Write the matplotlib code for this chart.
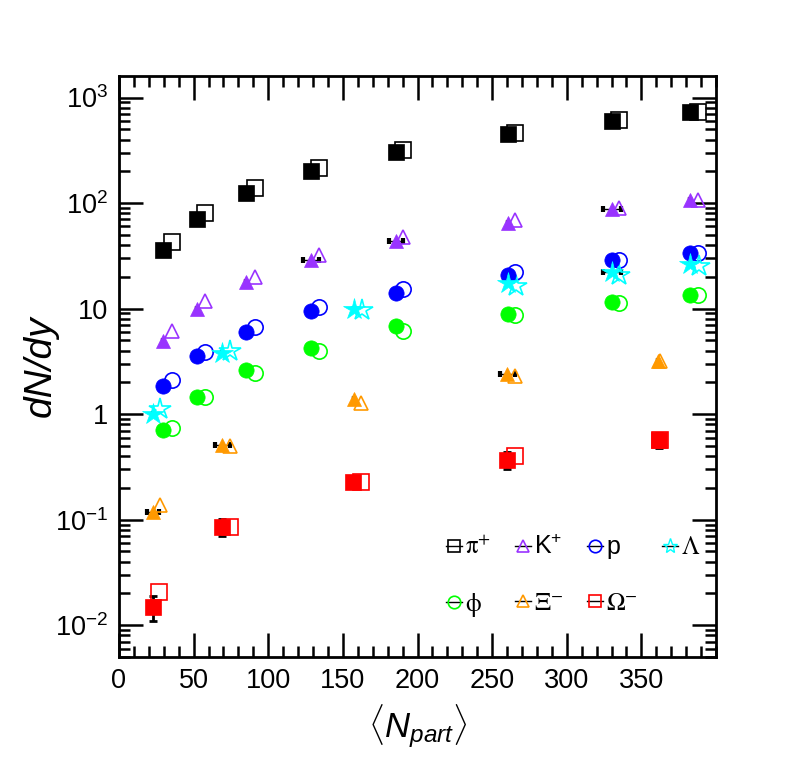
import matplotlib
matplotlib.use("Agg")
import matplotlib.pyplot as plt
from matplotlib.lines import Line2D
from matplotlib.ticker import FixedLocator, FixedFormatter, LogLocator, MultipleLocator, NullFormatter

plt.rcParams['font.family'] = ['Liberation Sans', 'DejaVu Sans']
plt.rcParams['mathtext.fontset'] = 'custom'
plt.rcParams['mathtext.rm'] = 'Liberation Sans'
plt.rcParams['mathtext.it'] = 'Liberation Sans:italic'
plt.rcParams['mathtext.bf'] = 'Liberation Sans:bold'

# ---------------- data ----------------
npart8_filled = [29.7, 52.4, 85.0, 128.7, 185.6, 260.5, 330.1, 382.8]
npart8_open = [35.3, 57.4, 90.8, 133.8, 190.6, 265.6, 335.2, 388.2]

pi_filled = [36.3, 70, 124, 201, 303, 452, 601, 727]
pi_open = [43, 81, 140, 217, 321, 466, 606, 722]
k_filled = [4.97, 9.9, 17.8, 29.2, 44.2, 65.2, 87.1, 106]
k_open = [6.09, 11.7, 19.8, 31.9, 47.6, 69.6, 90.4, 108]
k_xerr = [0, 0, 0, 5.5, 5.0, 0, 6.0, 0]
p_filled = [1.86, 3.58, 6.05, 9.57, 14.1, 21.0, 28.6, 33.5]
p_open = [2.10, 3.91, 6.65, 10.4, 15.4, 22.0, 29.0, 33.5]
phi_filled = [0.71, 1.46, 2.62, 4.24, 6.9, 8.91, 11.65, 13.5]
phi_open = [0.746, 1.44, 2.48, 3.93, 6.18, 8.71, 11.3, 13.5]

lam_npart_filled = [22.5, 69.1, 157.5, 260.6, 330.1, 382.8]
lam_npart_open = [27.4, 74.2, 162.7, 266.0, 335.1, 388.3]
lam_filled = [1.01, 3.76, 9.94, 17.4, 22.0, 26.2]
lam_open = [1.11, 3.99, 9.72, 16.5, 21.0, 25.2]
lam_xerr = [0, 0, 0, 0, 6.0, 0]

xi_npart_filled = [23.0, 69.1, 157.5, 260.2, 361.0]
xi_npart_open = [27.4, 74.3, 162.4, 265.5, 362.5]
xi_filled = [0.119, 0.508, 1.39, 2.40, 3.16]
xi_open = [0.138, 0.50, 1.27, 2.28, 3.2]
xi_xerr = [4.0, 5.0, 0, 5.0, 0]

om_npart_filled = [22.5, 69.1, 157.1, 260.2, 361.5]
om_npart_open = [27.0, 74.3, 162.4, 265.3, 362.5]
om_filled = [0.0149, 0.0857, 0.2276, 0.368, 0.566]
om_open = [0.0205, 0.0851, 0.2276, 0.40, 0.57]
om_yerr = [0.0039, 0.015, 0.0, 0.068, 0.09]

legend_labels = [r'$\mathrm{\pi}^{+}$', r'K$^{+}$', 'p', r'$\Lambda$', r'$\mathrm{\phi}$',
                 r'$\Xi^{-}$', r'$\Omega^{-}$']

ytick_vals = [1e-2, 1e-1, 1, 10, 1e2, 1e3]
ytick_labels = [r'$10^{-2}$', r'$10^{-1}$', '1', '10', r'$10^{2}$', r'$10^{3}$']
xtick_vals = [0, 50, 100, 150, 200, 250, 300, 350]

# ---------------- style ----------------
c_pi = 'black'
c_k = '#9933ff'
c_p = '#0000ff'
c_lam = '#00ffff'
c_phi = '#00ff00'
c_xi = '#ff9900'
c_om = '#ff0000'

fig = plt.figure(figsize=(7.96, 7.74), dpi=100)
ax = fig.add_axes([119/796, 1-657/774, (716-119)/796, (657-76)/774])

def series(xf, yf, xo, yo, color, marker, ms, ms_open=None, xerr=None, yerr=None):
    if ms_open is None:
        ms_open = ms
    ax.plot(xo, yo, ls='none', marker=marker, ms=ms_open, mfc='none', mec=color,
            mew=1.2, zorder=3)
    if xerr is not None:
        ax.errorbar(xf, yf, xerr=xerr, fmt='none', ecolor='black', elinewidth=1.0,
                    capsize=2.5, capthick=3, zorder=2)
    if yerr is not None:
        ax.errorbar(xf, yf, yerr=yerr, fmt='none', ecolor='black', elinewidth=2.0,
                    capsize=3, capthick=2, zorder=2)
    ax.plot(xf, yf, ls='none', marker=marker, ms=ms, mfc=color, mec=color,
            mew=0.5, zorder=4)

series(npart8_filled, pi_filled, npart8_open, pi_open, c_pi, 's', 11.3)
series(npart8_filled, k_filled, npart8_open, k_open, c_k, '^', 10.5, xerr=k_xerr)
series(npart8_filled, p_filled, npart8_open, p_open, c_p, 'o', 11.0)
series(lam_npart_filled, lam_filled, lam_npart_open, lam_open, c_lam, '*', 16, xerr=lam_xerr)
series(npart8_filled, phi_filled, npart8_open, phi_open, c_phi, 'o', 11.0)
series(xi_npart_filled, xi_filled, xi_npart_open, xi_open, c_xi, '^', 10.5, xerr=xi_xerr)
series(om_npart_filled, om_filled, om_npart_open, om_open, c_om, 's', 11.3, yerr=om_yerr)

ax.set_yscale('log')
ax.set_xlim(0, 400)
ax.set_ylim(0.0050, 1600)

ax.xaxis.set_major_locator(FixedLocator(xtick_vals))
ax.xaxis.set_minor_locator(MultipleLocator(10))
ax.yaxis.set_major_locator(FixedLocator(ytick_vals))
ax.yaxis.set_major_formatter(FixedFormatter(ytick_labels))
ax.yaxis.set_minor_locator(LogLocator(base=10, subs=range(2, 10)))
ax.yaxis.set_minor_formatter(NullFormatter())

ax.tick_params(which='both', direction='in', top=True, right=True, width=1.8,
               labelsize=19.5, pad=8)
ax.tick_params(which='major', length=17)
ax.tick_params(which='minor', length=8)
for s in ax.spines.values():
    s.set_linewidth(2)

ax.set_xlabel(r'$\langle N_{part}\rangle$', fontsize=25, labelpad=6)
ax.set_ylabel('dN/dy', fontsize=28, fontstyle='italic', labelpad=-3)

# ---------------- legend ----------------
handles = [
    Line2D([], [], color='black', lw=1, marker='s', ms=9, mfc='none', mec=c_pi, mew=1.2),
    Line2D([], [], color='black', lw=1, marker='^', ms=9, mfc='none', mec=c_k, mew=1.2),
    Line2D([], [], color='black', lw=1, marker='o', ms=9, mfc='none', mec=c_p, mew=1.2),
    Line2D([], [], color='black', lw=1, marker='*', ms=11, mfc='none', mec=c_lam, mew=1.0),
    Line2D([], [], color='black', lw=1, marker='o', ms=9, mfc='none', mec=c_phi, mew=1.2),
    Line2D([], [], color='black', lw=1, marker='^', ms=9, mfc='none', mec=c_xi, mew=1.2),
    Line2D([], [], color='black', lw=1, marker='s', ms=9, mfc='none', mec=c_om, mew=1.2),
]
order = [0, 4, 1, 5, 2, 6, 3]
leg = ax.legend([handles[i] for i in order], [legend_labels[i] for i in order],
                ncol=4, loc='upper left', bbox_to_anchor=(0.547, 0.21),
                frameon=False, fontsize=18, handlelength=0.65, handletextpad=0.12,
                columnspacing=0.95, labelspacing=1.25, borderpad=0, borderaxespad=0)
for t in leg.get_texts():
    if t.get_text() != 'p' and not t.get_text().startswith('K'):
        t.set_math_fontfamily('stix')
        t.set_fontsize(18)

fig.savefig('out.png', dpi=100)
